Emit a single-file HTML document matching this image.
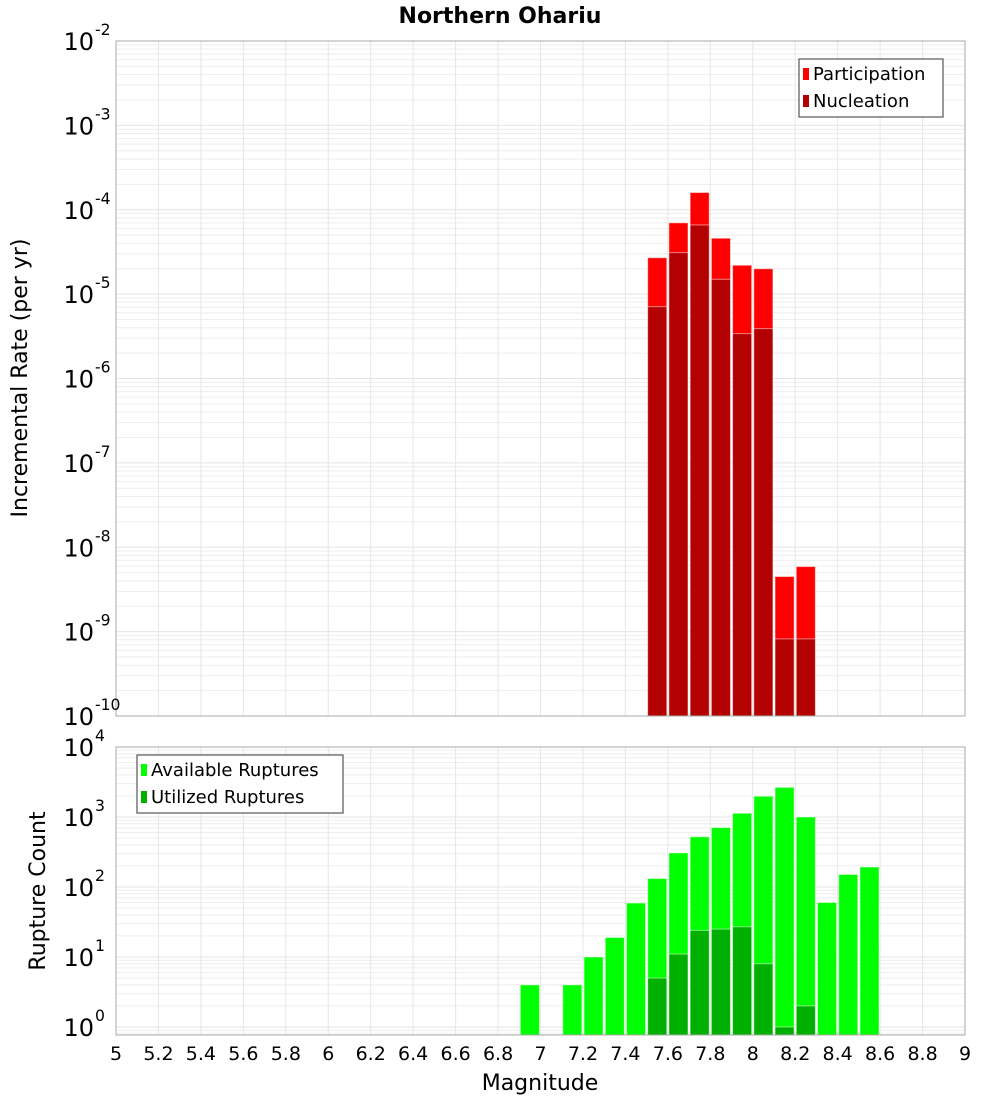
<!DOCTYPE html>
<html><head><meta charset="utf-8"><style>
body{margin:0;background:#fff;font-family:"Liberation Sans","DejaVu Sans",sans-serif}
svg text{font-family:"DejaVu Sans","Liberation Sans",sans-serif}
</style></head><body>
<svg id="c" width="1000" height="1100" xmlns="http://www.w3.org/2000/svg">
<rect width="1000" height="1100" fill="#fff"/>
<text x="500" y="23" text-anchor="middle" font-size="22" font-weight="bold">Northern Ohariu</text>
<g id="g"></g>
<text transform="translate(27,378) rotate(-90)" text-anchor="middle" font-size="22">Incremental Rate (per yr)</text>
<text transform="translate(45,891) rotate(-90)" text-anchor="middle" font-size="22">Rupture Count</text>
<text x="540" y="1090" text-anchor="middle" font-size="22">Magnitude</text>
</svg>
<script>
const rateMags=[7.55,7.65,7.75,7.85,7.95,8.05,8.15,8.25];
const participation=[2.7e-5,7.0e-5,1.6e-4,4.6e-5,2.2e-5,2.0e-5,4.5e-9,5.9e-9];
const nucleation=[7.1e-6,3.1e-5,6.6e-5,1.5e-5,3.4e-6,3.9e-6,8.2e-10,8.2e-10];
const countMags=[6.95,7.15,7.25,7.35,7.45,7.55,7.65,7.75,7.85,7.95,8.05,8.15,8.25,8.35,8.45,8.55];
const available=[4,4,10,19,59,132,307,522,706,1130,1980,2650,1000,60,151,193];
const utilMags=[7.55,7.65,7.75,7.85,7.95,8.05,8.15,8.25];
const utilized=[5,11,24,25,27,8,1,2];
const xTicks=[5,5.2,5.4,5.6,5.8,6,6.2,6.4,6.6,6.8,7,7.2,7.4,7.6,7.8,8,8.2,8.4,8.6,8.8,9];
const topExps=[-2,-3,-4,-5,-6,-7,-8,-9,-10];
const botExps=[0,1,2,3,4];

const NS="http://www.w3.org/2000/svg",G=document.getElementById('g');
function el(t,a,p){const e=document.createElementNS(NS,t);for(const k in a)e.setAttribute(k,a[k]);(p||G).appendChild(e);return e;}
const L=116,R=965;
const x=m=>L+(m-5)/4*(R-L);
const T={top:41,bot:716,lo:-10,hi:-2},B={top:747,bot:1035,lo:-0.1143,hi:4.0};
const y=(P,v)=>P.bot-(Math.log10(v)-P.lo)/(P.hi-P.lo)*(P.bot-P.top);
const bw=(R-L)/40*0.9;

function grid(P){
  for(let d=Math.floor(P.lo);d<=Math.ceil(P.hi);d++)for(let k=1;k<10;k++){
    const v=k*Math.pow(10,d),yy=y(P,v);if(yy<P.top-0.1||yy>P.bot+0.1)continue;
    const l=el('line',{x1:L,x2:R,y1:yy,y2:yy,stroke:k==1?'#e4e4e4':'#eeeeee','stroke-width':1});
    
  }
  xTicks.forEach(t=>{const l=el('line',{x1:x(t),x2:x(t),y1:P.top,y2:P.bot,stroke:'#e6e6e6'});
    });
}
function frame(P,n){const r=el('rect',{x:L,y:P.top,width:R-L,height:P.bot-P.top,fill:'none',stroke:'#aaa'});
  }
function bars(P,mags,vals,col,n){mags.forEach((m,i)=>{const yy=y(P,vals[i]);
  const r=el('rect',{x:x(m)-bw/2,y:yy,width:bw,height:P.bot-yy,fill:col,stroke:'#ffffff','stroke-opacity':0.5,'stroke-width':1});
  });}
function ylabel(P,e,sz){const t=el('text',{x:94,y:y(P,Math.pow(10,e))+9,'text-anchor':'end','font-size':sz});
  t.textContent='10';
  const s=el('text',{x:95,y:y(P,Math.pow(10,e))-6,'font-size':sz*0.65});s.textContent=String(e);
  }
function legend(x0,y0,w,items){const r=el('rect',{x:x0,y:y0,width:w,height:58,fill:'#fff',stroke:'#333'});
  
  items.forEach((it,i)=>{const s=el('rect',{x:x0+4,y:y0+9+i*27,width:6,height:12,fill:it[1]});
    
    const t=el('text',{x:x0+14,y:y0+21+i*27,'font-size':18});t.textContent=it[0];
    });}

grid(T);grid(B);
bars(T,rateMags,participation,'#ff0000','bar-participation');
bars(T,rateMags,nucleation,'#b30000','bar-nucleation');
bars(B,countMags,available,'#00ff00','bar-available');
bars(B,utilMags,utilized,'#00b000','bar-utilized');
frame(T,'top-plot-frame');frame(B,'bottom-plot-frame');
topExps.forEach(e=>ylabel(T,e,24));
botExps.forEach(e=>ylabel(B,e,24));
xTicks.forEach(t=>{const tx=el('text',{x:x(t),y:1060,'text-anchor':'middle','font-size':19});
  tx.textContent=String(t);});
legend(799,59,144,[['Participation','#ff0000'],['Nucleation','#b30000']]);
legend(137,755,206,[['Available Ruptures','#00ff00'],['Utilized Ruptures','#00b000']]);
</script>
</body></html>
